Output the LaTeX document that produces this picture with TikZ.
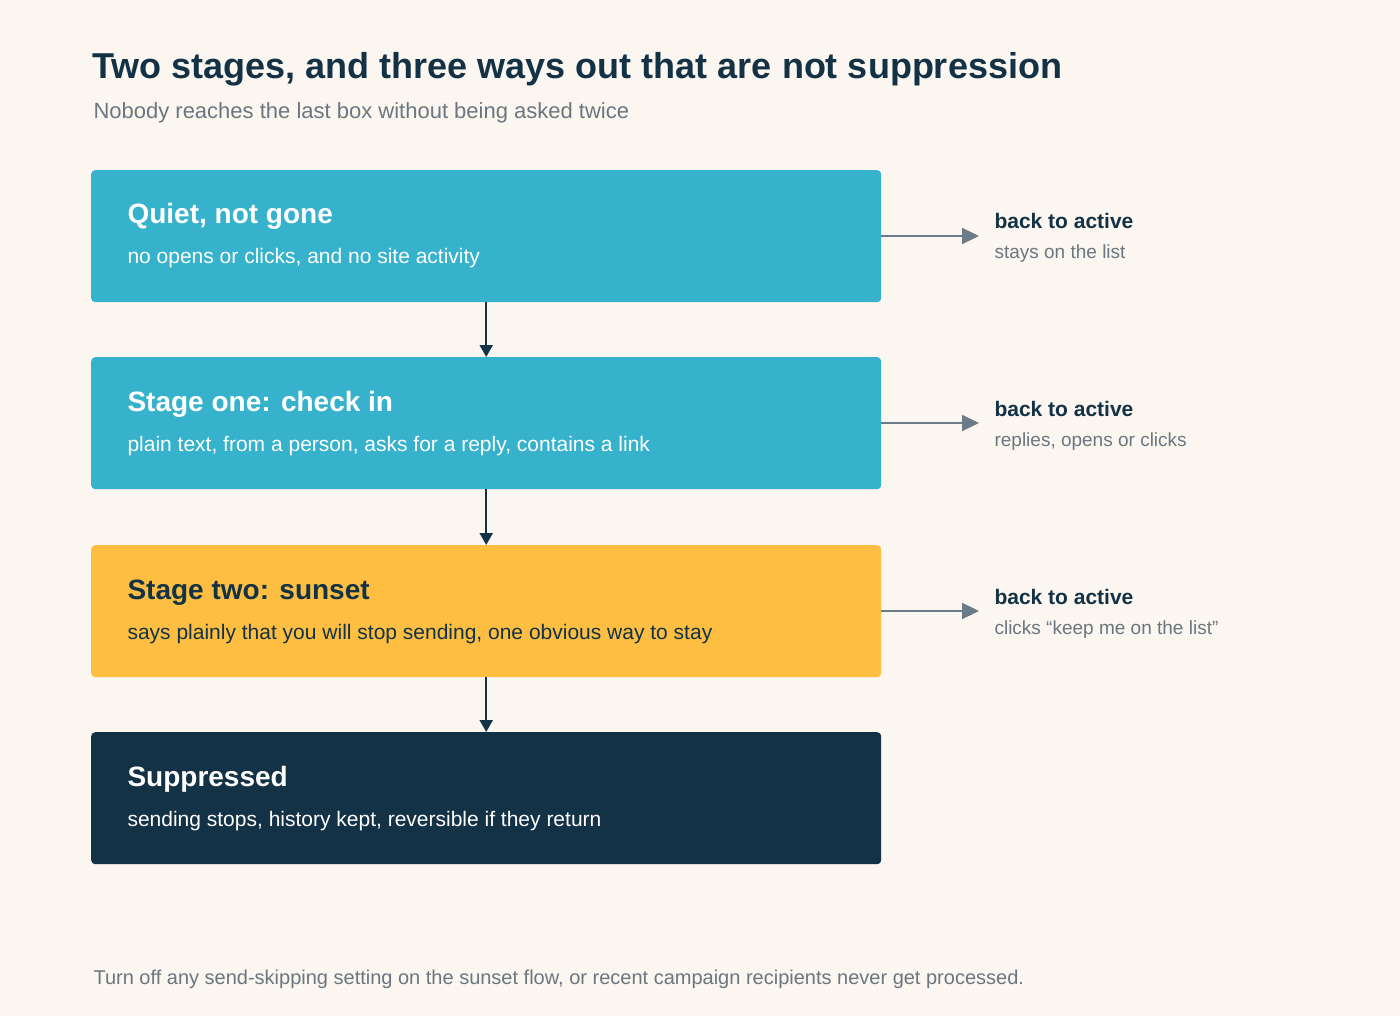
\documentclass[tikz,border=0pt]{standalone}
\usepackage{fontspec}
\setmainfont{Liberation Sans}
\usetikzlibrary{arrows.meta}
\definecolor{bg}{HTML}{FBF6F0}
\definecolor{cy}{HTML}{36B2CC}
\definecolor{ye}{HTML}{FDBE41}
\definecolor{nv}{HTML}{133246}
\definecolor{gt}{HTML}{6B7780}
\definecolor{ga}{HTML}{6B7B87}
\begin{document}
\begin{tikzpicture}[x=1pt,y=-1pt,
 box/.style={rounded corners=4pt,minimum width=790pt,minimum height=132pt,anchor=north west},
 bt/.style={anchor=base west,font=\bfseries\fontsize{28}{32}\selectfont},
 bs/.style={anchor=base west,font=\fontsize{21}{25}\selectfont},
 down/.style={draw=nv,line width=2.2pt,-{Triangle[length=12pt,width=13pt]}},
 side/.style={draw=ga,line width=2.2pt,-{Triangle[length=17pt,width=16pt]}},
 lt/.style={anchor=base west,text=nv,font=\bfseries\fontsize{21}{25}\selectfont},
 ls/.style={anchor=base west,text=gt,font=\fontsize{19}{23}\selectfont}]
\fill[bg] (0,0) rectangle (1400,1016);
\useasboundingbox (0,0) rectangle (1400,1016);
\node[anchor=base west,text=nv,font=\bfseries\fontsize{36}{40}\selectfont] (title) at (89,79) {Two stages, and three ways out that are not suppression};
\node[anchor=base west,text=gt,font=\fontsize{22}{26}\selectfont] (sub) at (90,119) {Nobody reaches the last box without being asked twice};
\node[box,fill=cy] (b1) at (91,170) {};
\node[box,fill=cy] (b2) at (91,357) {};
\node[box,fill=ye] (b3) at (91,545) {};
\node[box,fill=nv] (b4) at (91,732) {};
\node[bt,text=white] (t1) at (124,224) {Quiet, not gone};
\node[bs,text=white] (s1) at (124,264) {no opens or clicks, and no site activity};
\node[bt,text=white] (t2) at (124,411) {Stage one: check in};
\node[bs,text=white] (s2) at (124,451) {plain text, from a person, asks for a reply, contains a link};
\node[bt,text=nv] (t3) at (124,599) {Stage two: sunset};
\node[bs,text=nv] (s3) at (124,639) {says plainly that you will stop sending, one obvious way to stay};
\node[bt,text=white] (t4) at (124,786) {Suppressed};
\node[bs,text=white] (s4) at (124,826) {sending stops, history kept, reversible if they return};
\draw[down] (b1.south) -- (b2.north);
\draw[down] (b2.south) -- (b3.north);
\draw[down] (b3.south) -- (b4.north);
\coordinate (e1) at (979,236);
\coordinate (e2) at (979,423);
\coordinate (e3) at (979,611);
\draw[side] (b1.east|-e1) -- (e1);
\draw[side] (b2.east|-e2) -- (e2);
\draw[side] (b3.east|-e3) -- (e3);
\node[lt] (l1) at (991,229) {back to active};
\node[ls] (m1) at (991,259) {stays on the list};
\node[lt] (l2) at (991,416) {back to active};
\node[ls] (m2) at (991,446) {replies, opens or clicks};
\node[lt] (l3) at (991,604) {back to active};
\node[ls] (m3) at (991,634) {clicks “keep me on the list”};
\node[anchor=base west,text=gt,font=\fontsize{20}{24}\selectfont] (foot) at (90,984) {Turn off any send-skipping setting on the sunset flow, or recent campaign recipients never get processed.};
\end{tikzpicture}
\end{document}
